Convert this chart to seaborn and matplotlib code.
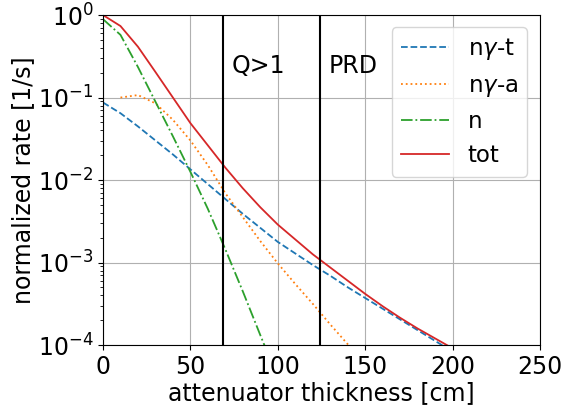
import numpy as np
import pandas as pd
import seaborn as sns
import matplotlib
matplotlib.use("Agg")
import matplotlib.pyplot as plt

thickness = [0, 10, 20, 30, 40, 50, 60, 70, 80, 90, 100, 110, 120, 130, 140, 150, 160, 170, 180, 190, 200]
log_ngt = [-1.06, -1.19, -1.35, -1.52, -1.69, -1.87, -2.05, -2.23, -2.41, -2.58, -2.75, -2.89, -3.03, -3.16, -3.30, -3.43, -3.56, -3.69, -3.82, -3.95, -4.08]
log_nga = [None, -1.0, -0.97, -1.07, -1.27, -1.52, -1.82, -2.16, -2.45, -2.74, -3.01, -3.26, -3.50, -3.75, -3.99, -4.23, -4.47, None, None, None, None]
log_n = [-0.05, -0.24, -0.63, -1.05, -1.47, -1.90, -2.35, -2.84, -3.35, -3.88, -4.40, None, None, None, None, None, None, None, None, None, None]
log_tot = [0.0, -0.133, -0.384, -0.69, -1.0, -1.31, -1.58, -1.85, -2.10, -2.33, -2.54, -2.72, -2.90, -3.06, -3.22, -3.38, -3.53, -3.67, -3.80, -3.92, -4.04]

series_names = ["n$\\gamma$-t", "n$\\gamma$-a", "n", "tot"]
series_logs = [log_ngt, log_nga, log_n, log_tot]
colors = ["#1f77b4", "#ff7f0e", "#2ca02c", "#d62728"]
styles = ["--", ":", "-.", "-"]

vlines = [68.5, 124]
vtexts = ["Q>1", "PRD"]

plt.rcParams["font.family"] = ["DejaVu Sans"]
fs = 17

fig = plt.figure(figsize=(5.64, 4.07), dpi=100)
ax = fig.add_axes([0.1826, 0.1523, 0.7748, 0.8107])

for name, logs, c, ls in zip(series_names, series_logs, colors, styles):
    df = pd.DataFrame({"x": thickness, "y": [10 ** v if v is not None else np.nan for v in logs]}).dropna()
    sns.lineplot(data=df, x="x", y="y", ax=ax, color=c, linestyle=ls, label=name, lw=1.3)

for xv, t in zip(vlines, vtexts):
    ax.axvline(xv, color="black", lw=1.5)
    ax.text(xv + 5, 10 ** -0.62, t, fontsize=fs, va="center", ha="left")

ax.set_yscale("log")
ax.set_xlim(0, 250)
ax.set_ylim(1e-4, 1)
ax.set_xticks([0, 50, 100, 150, 200, 250])
ax.grid(True, which="major", color="#b0b0b0", lw=0.8)
ax.set_xlabel("attenuator thickness [cm]", fontsize=fs, labelpad=2)
ax.set_ylabel("normalized rate [1/s]", fontsize=fs, labelpad=2)
ax.tick_params(labelsize=fs)
ax.legend(loc="upper right", fontsize=16.5, bbox_to_anchor=(0.970, 0.964),
          borderaxespad=0, labelspacing=0.5, handlelength=2.1)

fig.savefig("out.png", dpi=100)
